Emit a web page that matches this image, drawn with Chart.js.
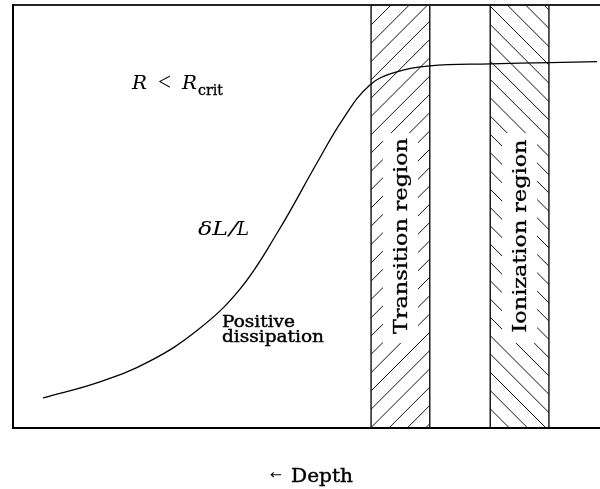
<!DOCTYPE html>
<html><head><meta charset="utf-8">
<script src="https://cdn.jsdelivr.net/npm/chart.js@4"></script>
<style>html,body{margin:0;padding:0;background:#fff}canvas{display:block}</style>
</head><body>
<canvas id="c" width="600" height="489"></canvas>
<script>
// Curve: relative luminosity perturbation vs. depth (arbitrary units 0-100)
const depth = [5.1, 14.8, 23.3, 31.5, 38.7, 45.0, 51.8, 56.1, 60.8, 65.4, 71.0, 81.3, 91.5, 99.5];
const deltaL = [7.1, 10.9, 15.8, 23.2, 32.9, 46.1, 62.7, 72.8, 81.1, 84.2, 85.6, 86.1, 86.4, 86.6];
// Shaded regions
const regionNames = ['Transition region', 'Ionization region'];
const regionStart = [61.0, 81.3];
const regionEnd = [71.0, 91.3];
const hatchDir = [1, -1];
const xLabel = 'Depth';

const FONT = '"DejaVu Serif", serif';

function fitText(ctx, text, x, y, w, heavy) {
  const m = ctx.measureText(text).width;
  ctx.save();
  ctx.translate(x, y);
  ctx.scale(w / m, 1);
  ctx.fillText(text, 0, 0);
  if (heavy) { ctx.lineWidth = heavy; ctx.strokeStyle = ctx.fillStyle; ctx.strokeText(text, 0, 0); }
  ctx.restore();
}

const bandsPlugin = {
  id: 'bands',
  beforeDatasetsDraw(chart) {
    const {ctx, chartArea: {top, bottom}, scales: {x}} = chart;
    const phase = [396, 484];
    const s = 18.3;
    regionNames.forEach((name, i) => {
      const L = x.getPixelForValue(regionStart[i]);
      const R = x.getPixelForValue(regionEnd[i]);
      ctx.save();
      ctx.beginPath(); ctx.rect(L, top, R - L, bottom - top); ctx.clip();
      ctx.strokeStyle = '#111'; ctx.lineWidth = 1;
      ctx.beginPath();
      const c0 = phase[i];
      for (let k = -60; k <= 60; k++) {
        const c = c0 + k * s;
        if (hatchDir[i] > 0) { ctx.moveTo(c - top, top); ctx.lineTo(c - bottom, bottom); }
        else { ctx.moveTo(c + top, top); ctx.lineTo(c + bottom, bottom); }
      }
      ctx.stroke();
      const cx = (L + R) / 2;
      ctx.fillStyle = '#fff';
      ctx.fillRect(cx - 17.5, 133, 35, 210);
      ctx.restore();
      ctx.save();
      ctx.strokeStyle = '#111'; ctx.lineWidth = 1.4;
      ctx.beginPath();
      ctx.moveTo(L, top); ctx.lineTo(L, bottom);
      ctx.moveTo(R, top); ctx.lineTo(R, bottom);
      ctx.stroke();
      // rotated label
      ctx.translate(cx + 6.5, 236);
      ctx.rotate(-Math.PI / 2);
      ctx.fillStyle = '#000';
      ctx.font = '18px ' + FONT;
      ctx.textBaseline = 'alphabetic';
      const w = i === 0 ? 196 : 193;
      fitText(ctx, name, -w / 2, 0, w, 0.3);
      ctx.restore();
    });
  },
  afterDatasetsDraw(chart) {
    const {ctx, chartArea: {left, right, top, bottom}} = chart;
    ctx.save();
    // frame
    ctx.lineCap = 'square';
    ctx.strokeStyle = '#222'; ctx.lineWidth = 2;
    ctx.beginPath(); ctx.moveTo(left, top); ctx.lineTo(right, top); ctx.stroke();
    ctx.strokeStyle = '#000';
    ctx.beginPath(); ctx.moveTo(left, top); ctx.lineTo(left, bottom); ctx.lineTo(right, bottom); ctx.stroke();
    // annotations
    ctx.fillStyle = '#000';
    ctx.textBaseline = 'alphabetic';
    ctx.font = 'italic 19px ' + FONT;
    fitText(ctx, 'R', 132, 89, 15);
    ctx.font = '25px "Liberation Serif", serif';
    fitText(ctx, '<', 158, 90, 13);
    ctx.font = 'italic 19px ' + FONT;
    fitText(ctx, 'R', 182, 89, 15);
    ctx.font = '14px ' + FONT;
    fitText(ctx, 'crit', 198, 95, 25, 0.3);
    ctx.font = 'italic 19px ' + FONT;
    fitText(ctx, 'δL', 198, 235, 30);
    fitText(ctx, '/', 229, 235, 9);
    fitText(ctx, 'L', 237, 235, 12);
    ctx.font = '17px ' + FONT;
    fitText(ctx, 'Positive', 222, 327, 73, 0.45);
    fitText(ctx, 'dissipation', 222, 342, 102, 0.45);
    // axis label
    ctx.font = '13px "DejaVu Sans", sans-serif';
    ctx.textBaseline = 'middle';
    fitText(ctx, '←', 270, 476, 12);
    ctx.textBaseline = 'alphabetic';
    ctx.font = '19px ' + FONT;
    fitText(ctx, xLabel, 291, 482, 62, 0.4);
    ctx.restore();
  }
};

new Chart(document.getElementById('c'), {
  type: 'line',
  data: {
    datasets: [{
      data: depth.map((d, i) => ({x: d, y: deltaL[i]})),
      borderColor: '#000',
      borderWidth: 1.3,
      pointRadius: 0,
      tension: 0.4,
      fill: false
    }]
  },
  options: {
    responsive: false,
    animation: false,
    layout: {padding: {left: 13, right: 0, top: 5, bottom: 61}},
    plugins: {legend: {display: false}, tooltip: {enabled: false}, title: {display: false}},
    scales: {
      x: {type: 'linear', min: 0, max: 100, display: false},
      y: {type: 'linear', min: 0, max: 100, display: false}
    }
  },
  plugins: [bandsPlugin]
});
</script>
</body></html>
